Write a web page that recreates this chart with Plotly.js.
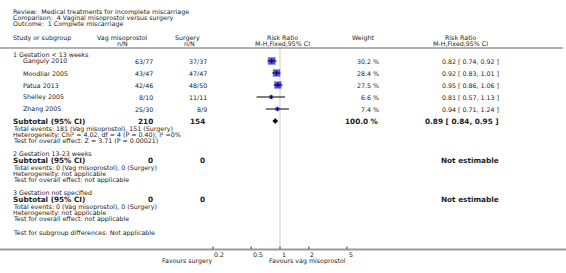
<!DOCTYPE html>
<html><head><meta charset="utf-8">
<script src="https://cdn.plot.ly/plotly-3.0.1.min.js"></script>
<style>html,body{margin:0;padding:0;background:#fff}#chart{width:566px;height:273px}</style>
</head><body><div id="chart"></div>
<script>
// ---- data ----
const studies = ["Ganguly 2010","Moodliar 2005","Patua 2013","Shelley 2005","Zhang 2005"];
const vagEvents = [63,43,42,8,25];
const vagTotal = [77,47,46,10,30];
const surgEvents = [37,47,48,11,8];
const surgTotal = [37,47,50,11,9];
const rr = [0.82,0.92,0.95,0.81,0.94];
const rrLo = [0.74,0.83,0.86,0.57,0.71];
const rrHi = [0.92,1.01,1.06,1.13,1.24];
const weights = [30.2,28.4,27.5,6.6,7.4];
const subRR = 0.89, subLo = 0.84, subHi = 0.95;
const subVagTotal = 210, subSurgTotal = 154;
const tickVals = [0.2,0.5,1,2,5];
const tickLabels = ["0.2","0.5","1","2","5"];

// ---- layout helpers ----
const W = 566;
const FONT = "DejaVu Sans, Verdana, sans-serif";
const TXT = "#222";
const FS = 6.3;
const ann = [];
function t(text, px, py, anchor, size, bold) {
  ann.push({text: bold ? "<b>"+text+"</b>" : text, xref:"paper", yref:"y", x: px/W, y: py,
    xanchor: anchor||"left", yanchor:"middle", showarrow:false, borderpad:0, borderwidth:0,
    font:{family:FONT, size:size||FS, color:TXT}});
}
const fmt = v => v.toFixed(2);

t("Review:  Medical treatments for incomplete miscarriage", 13, 11.5);
t("Comparison:  4 Vaginal misoprostol versus surgery", 13, 17.7);
t("Outcome:  1 Complete miscarriage", 13, 24);
t("Study or subgroup", 13, 38);
t("Vag misoprostol", 122, 37.5, "center");
t("n/N", 122, 43.8, "center");
t("Surgery", 188, 37.5, "center");
t("n/N", 189, 43.8, "center");
t("Risk Ratio", 282, 37.5, "center");
t("M-H,Fixed,95% CI", 282, 43.8, "center");
t("Weight", 363, 38, "center");
t("Risk Ratio", 460, 37.5, "center");
t("M-H,Fixed,95% CI", 460, 43.8, "center");

const rowY = [61,73,85,97,109];
t("1 Gestation < 13 weeks", 13, 54.5);
studies.forEach((s,i)=>{
  t(s, 23, rowY[i]);
  t(vagEvents[i]+"/"+vagTotal[i], 153, rowY[i], "right");
  t(surgEvents[i]+"/"+surgTotal[i], 207, rowY[i], "right");
  t(weights[i].toFixed(1)+" %", 379, rowY[i], "right");
  t(fmt(rr[i])+" [ "+fmt(rrLo[i])+", "+fmt(rrHi[i])+" ]", 499, rowY[i], "right");
});
const subY = 121;
const SB = 7.3;
t("Subtotal (95% CI)", 13, subY, "left", SB, true);
t(String(subVagTotal), 153, subY, "right", 7.3, true);
t(String(subSurgTotal), 205, subY, "right", 7.3, true);
t("100.0 %", 379, subY, "right", 7.3, true);
t(fmt(subRR)+" [ "+fmt(subLo)+", "+fmt(subHi)+" ]", 499, subY, "right", 7.3, true);
t("Total events: 181 (Vag misoprostol), 151 (Surgery)", 13, 128.8);
t("Heterogeneity: Chi² = 4.02, df = 4 (P = 0.40); I² =0%", 13, 134.6);
t("Test for overall effect: Z = 3.71 (P = 0.00021)", 13, 140.2);

t("2 Gestation 13-23 weeks", 13, 153.2);
t("Subtotal (95% CI)", 13, 160, "left", SB, true);
t("0", 153, 160, "right", 7.3, true);
t("0", 205, 160, "right", 7.3, true);
t("Not estimable", 499, 160, "right", 7.3, true);
t("Total events: 0 (Vag misoprostol), 0 (Surgery)", 13, 167.9);
t("Heterogeneity: not applicable", 13, 173.7);
t("Test for overall effect: not applicable", 13, 179.5);

t("3 Gestation not specified", 13, 192.9);
t("Subtotal (95% CI)", 13, 199.7, "left", SB, true);
t("0", 153, 199.7, "right", 7.3, true);
t("0", 205, 199.7, "right", 7.3, true);
t("Not estimable", 499, 199.7, "right", 7.3, true);
t("Total events: 0 (Vag misoprostol), 0 (Surgery)", 13, 207.4);
t("Heterogeneity: not applicable", 13, 213.4);
t("Test for overall effect: not applicable", 13, 219.3);
t("Test for subgroup differences: Not applicable", 13, 233.3);

// tick labels, left aligned at tick
tickVals.forEach((v,i)=>{
  ann.push({text:tickLabels[i], xref:"x", yref:"y", x:Math.log10(v), y:254.5, xanchor:"left", yanchor:"middle",
    showarrow:false, borderpad:0, xshift:0.5, font:{family:FONT,size:FS,color:TXT}});
});
t("Favours surgery", 213, 261, "right");
t("Favours vag misoprostol", 269, 261, "left");

// ---- traces ----
const squares = {type:"scatter", mode:"markers", x:rr, y:rowY, hoverinfo:"skip",
  marker:{symbol:"square", color:"#0000f0", size:weights.map(w=>1.3*Math.sqrt(w)), line:{width:0.6, color:"#5a5aff"}}};
const ciX = [], ciY = [];
rr.forEach((r,i)=>{ ciX.push(rrLo[i], rrHi[i], null); ciY.push(rowY[i], rowY[i], null); });
const ci = {type:"scatter", mode:"lines", x:ciX, y:ciY, hoverinfo:"skip", line:{color:"#000", width:1}};
const est = {type:"scatter", mode:"markers", x:rr, y:rowY, hoverinfo:"skip",
  marker:{symbol:"line-ns", size:3, line:{color:"#000", width:1}}};
const dh = 2.6;
const diamond = {type:"scatter", mode:"lines", fill:"toself", fillcolor:"#000", hoverinfo:"skip",
  x:[subLo, subRR, subHi, subRR, subLo], y:[subY, subY-dh, subY, subY+dh, subY], line:{color:"#000", width:0.5}};

const layout = {
  width:566, height:273, margin:{l:0,r:0,t:0,b:0,pad:0},
  paper_bgcolor:"#fff", plot_bgcolor:"#fff", showlegend:false,
  xaxis:{type:"log", range:[(0-280)/95.9, (566-280)/95.9], showgrid:false, zeroline:false,
    showline:false, tickvals:tickVals, ticks:"", showticklabels:false, fixedrange:true},
  yaxis:{range:[273,0], showgrid:false, zeroline:false, showline:false, showticklabels:false, ticks:"", fixedrange:true},
  shapes:[
    {type:"line", layer:"below", xref:"x", yref:"y", x0:1, x1:1, y0:48, y1:249, line:{color:"#dcdcdc", width:1.5}},
    {type:"line", xref:"paper", yref:"y", x0:0, x1:563/W, y0:48, y1:48, line:{color:"#999", width:1.5}},
    {type:"line", xref:"paper", yref:"y", x0:0, x1:1, y0:249.5, y1:249.5, line:{color:"#999", width:2}}
  ].concat(tickVals.map(v=>({type:"line", xref:"x", yref:"y", x0:v, x1:v, y0:246.5, y1:249, line:{color:"#444", width:1}}))),
  annotations:ann
};
Plotly.newPlot("chart", [squares, ci, est, diamond], layout, {staticPlot:true, displayModeBar:false});
</script></body></html>
